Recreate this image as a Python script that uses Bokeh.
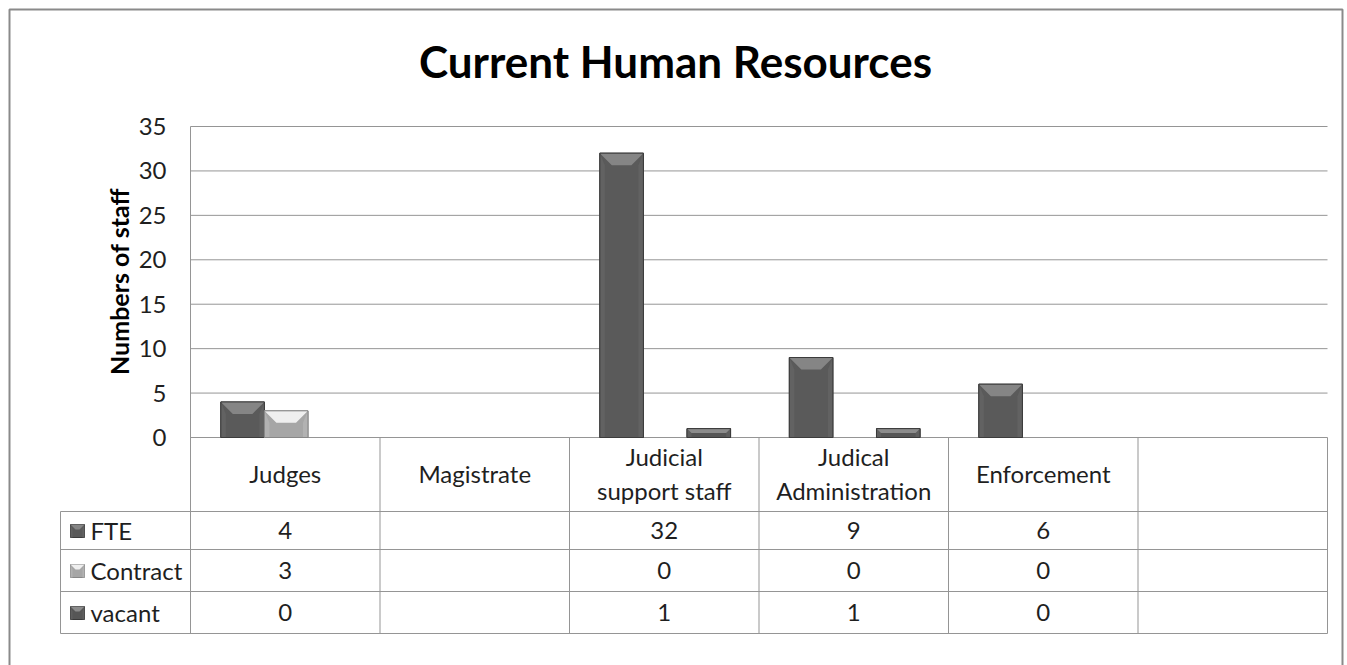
from bokeh.plotting import figure
from bokeh.models import Range1d
from bokeh.core.properties import value
from bokeh.embed import file_html
from bokeh.resources import INLINE
import math

# ---------------- data ----------------
categories = ["Judges", "Magistrate", "Judicial\nsupport staff", "Judical\nAdministration", "Enforcement", ""]
series_names = ["FTE", "Contract", "vacant"]
fte = [4, None, 32, 9, 6, None]
contract = [3, None, 0, 0, 0, None]
vacant = [0, None, 1, 1, 0, None]
y_ticks = [0, 5, 10, 15, 20, 25, 30, 35]
y_tick_labels = ["0", "5", "10", "15", "20", "25", "30", "35"]
title_text = "Current Human Resources"
y_label = "Numbers of staff"

series_values = [fte, contract, vacant]

# ---------------- layout / style ----------------
W, H = 1347, 665
PLOT_L, PLOT_R = 190, 1327
PLOT_T, PLOT_B = 126, 437
TABLE_L = 60
ROW_BOUNDS = [511, 549, 591, 633]          # canvas y of table row lines
ROW_CENTERS = [530, 570, 612]               # value rows
HEADER_CENTER = 473
FONT = "Lato"
GRID_COLOR = "#959595"
TEXT_COLOR = "#1f1f1f"

body_colors = ["#5a5a5a", "#a6a6a6", "#565656"]
top_colors = ["#858585", "#efefef", "#8c8c8c"]
side_colors = ["#626262", "#b2b2b2", "#5f5f5f"]
edge_colors = ["#3c3c3c", "#878787", "#3a3a3a"]

n_cat = len(categories)
YMAX = y_ticks[-1]
cat_px = (PLOT_R - PLOT_L) / n_cat
unit_px = (PLOT_B - PLOT_T) / YMAX


def X(cx):
    return (cx - PLOT_L) / cat_px


def Y(cy):
    return (PLOT_B - cy) / unit_px


p = figure(width=W, height=H, output_backend="svg", toolbar_location=None, tools="",
           x_range=Range1d(X(0), X(W)), y_range=Range1d(Y(H), Y(0)),
           x_axis_location=None, y_axis_location=None, min_border=0)
p.grid.visible = False
p.outline_line_color = None
p.background_fill_color = "white"
p.border_fill_color = "white"

# outer border (top, left, right)
p.line(x=[X(9), X(9), X(1342), X(1342)], y=[Y(H), Y(9), Y(9), Y(H)],
       line_color="#8a8a8a", line_width=2)

# gridlines
p.segment(x0=[0] * len(y_ticks), x1=[n_cat] * len(y_ticks), y0=y_ticks, y1=y_ticks,
          line_color=GRID_COLOR, line_width=1)

# tick labels
p.text(x=[X(PLOT_L - 24)] * len(y_ticks), y=y_ticks, text=y_tick_labels,
       text_font=value(FONT), text_font_size="24px", text_color=TEXT_COLOR,
       text_align="right", text_baseline="middle")

# axis title
p.text(x=[X(118)], y=[Y(281)], text=[y_label], angle=math.pi / 2,
       text_font=value(FONT), text_font_style="bold", text_font_size="25px",
       text_color="#000000", text_align="center", text_baseline="middle")

# chart title
p.text(x=[X(675)], y=[Y(60)], text=[title_text],
       text_font=value(FONT), text_font_style="bold", text_font_size="44px",
       text_color="#000000", text_align="center", text_baseline="middle")


def bevel(x0, x1, y0, y1, b_px, side_px):
    hpx = (y1 - y0) * unit_px
    wpx = (x1 - x0) * cat_px
    b = min(b_px, hpx / 2.0, wpx / 2.0)
    s = min(side_px, b)
    bx, by, sx = b / cat_px, b / unit_px, s / cat_px
    top = ([x0, x1, x1 - bx, x0 + bx], [y1, y1, y1 - by, y1 - by])
    left = ([x0, x0 + sx, x0 + sx, x0], [y1, y1 - by, y0, y0])
    right = ([x1, x1 - sx, x1 - sx, x1], [y1, y1 - by, y0, y0])
    return top, left, right


# bars
bar_w = 0.23
for k, vals in enumerate(series_values):
    xs, tops = [], []
    for i, v in enumerate(vals):
        if v:
            xs.append(i + 0.505 + (k - 1) * bar_w)
            tops.append(v)
    if not xs:
        continue
    p.vbar(x=xs, top=tops, bottom=0, width=bar_w, fill_color=body_colors[k],
           line_color=edge_colors[k], line_width=1)
    sx, sy, tx, ty = [], [], [], []
    for x, v in zip(xs, tops):
        t, l, r = bevel(x - bar_w / 2, x + bar_w / 2, 0, v, 12, 5)
        sx += [l[0], r[0]]
        sy += [l[1], r[1]]
        tx.append(t[0])
        ty.append(t[1])
    p.patches(xs=sx, ys=sy, fill_color=side_colors[k], line_color=None)
    p.patches(xs=tx, ys=ty, fill_color=top_colors[k], line_color=None)
    p.vbar(x=xs, top=tops, bottom=0, width=bar_w, fill_color=None,
           line_color=edge_colors[k], line_width=1)

# data table lines
for rb in ROW_BOUNDS:
    p.segment(x0=[X(TABLE_L)], x1=[n_cat], y0=[Y(rb)], y1=[Y(rb)],
              line_color=GRID_COLOR, line_width=1)
p.segment(x0=list(range(1, n_cat + 1)), x1=list(range(1, n_cat + 1)),
          y0=[0] * n_cat, y1=[Y(ROW_BOUNDS[-1])] * n_cat,
          line_color=GRID_COLOR, line_width=1)
p.segment(x0=[0, X(TABLE_L)], x1=[0, X(TABLE_L)], y0=[YMAX, Y(ROW_BOUNDS[0])],
          y1=[Y(ROW_BOUNDS[-1]), Y(ROW_BOUNDS[-1])], line_color=GRID_COLOR, line_width=1)

# header row
p.text(x=[i + 0.5 for i in range(n_cat)], y=[Y(HEADER_CENTER)] * n_cat, text=categories,
       text_font=value(FONT), text_font_size="24px", text_color=TEXT_COLOR,
       text_align="center", text_baseline="middle", text_line_height=1.2)

# value rows + legend keys
for k, vals in enumerate(series_values):
    yc = Y(ROW_CENTERS[k])
    p.text(x=[i + 0.5 for i in range(n_cat)], y=[yc] * n_cat,
           text=["" if v is None else str(v) for v in vals],
           text_font=value(FONT), text_font_size="24px", text_color=TEXT_COLOR,
           text_align="center", text_baseline="middle")
    kx0, kx1 = X(70), X(84)
    ky0, ky1 = Y(ROW_CENTERS[k] + 7), Y(ROW_CENTERS[k] - 6)
    p.quad(left=[kx0], right=[kx1], bottom=[ky0], top=[ky1], fill_color=body_colors[k],
           line_color=edge_colors[k], line_width=1)
    t, l, r = bevel(kx0, kx1, ky0, ky1, 5, 2)
    p.patches(xs=[l[0], r[0]], ys=[l[1], r[1]], fill_color=side_colors[k], line_color=None)
    p.patches(xs=[t[0]], ys=[t[1]], fill_color=top_colors[k], line_color=None)
    p.text(x=[X(90)], y=[yc], text=[series_names[k]],
           text_font=value(FONT), text_font_size="24px", text_color=TEXT_COLOR,
           text_align="left", text_baseline="middle")

open("out.html", "w").write(file_html(p, INLINE))
